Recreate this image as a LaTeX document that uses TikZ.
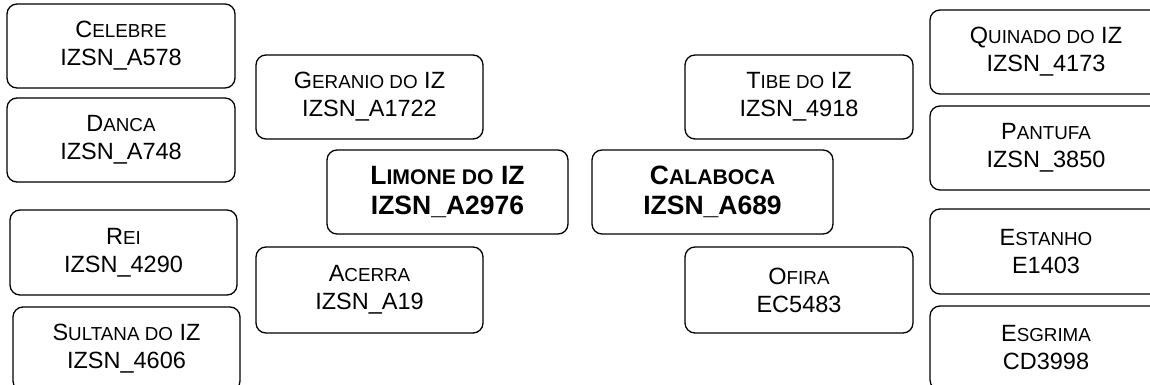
\documentclass[tikz,border=0pt]{standalone}
\usepackage{fontspec}
\setmainfont{Liberation Sans}
\newcommand\SC[2]{#1{\fontsize{18.8pt}{28pt}\selectfont #2}}
\newcommand\SCB[2]{#1{\fontsize{21.2pt}{29.5pt}\selectfont #2}}
\tikzset{
  box/.style={draw=black, line width=1.3pt, rounded corners=10pt, fill=white,
    minimum width=228pt, minimum height=84pt, align=center, inner sep=0pt,
    font=\fontsize{23.5pt}{28pt}\selectfont},
  wide/.style={box, minimum width=241pt, font=\fontsize{26.5pt}{29.5pt}\selectfont\bfseries},
}
\begin{document}
\begin{tikzpicture}[x=1pt,y=-1pt]
\useasboundingbox (0,0) rectangle (1150,385);
\begin{scope}
\clip (0,0) rectangle (1150,385);
\node[box] (celebre) at (121,46) {\SC{C}{ELEBRE}\\IZSN\_A578};
\node[box] (danca) at (121,140) {\SC{D}{ANCA}\\IZSN\_A748};
\node[box, minimum width=227pt, minimum height=85pt] (rei) at (123.5,252.5) {\SC{R}{EI}\\IZSN\_4290};
\node[box, minimum width=227pt] (sultana) at (126.5,349) {\SC{S}{ULTANA DO} IZ\\IZSN\_4606};
\node[box, minimum width=227pt] (geranio) at (369.5,97) {\SC{G}{ERANIO DO} IZ\\IZSN\_A1722};
\node[wide] (limone) at (447.5,192) {\SCB{L}{IMONE DO} IZ\\IZSN\_A2976};
\node[box, minimum width=227pt, minimum height=86pt] (acerra) at (369.5,290) {\SC{A}{CERRA}\\IZSN\_A19};
\node[box] (tibe) at (799,97) {\SC{T}{IBE DO} IZ\\IZSN\_4918};
\node[wide] (calaboca) at (712.5,192) {\SCB{C}{ALABOCA}\\IZSN\_A689};
\node[box, minimum height=86pt] (ofira) at (799,290) {\SC{O}{FIRA}\\EC5483};
\node[box, minimum width=232pt] (quinado) at (1046,52) {\SC{Q}{UINADO DO} IZ\\IZSN\_4173};
\node[box, minimum width=232pt] (pantufa) at (1046,148) {\SC{P}{ANTUFA}\\IZSN\_3850};
\node[box, minimum width=232pt, minimum height=85pt] (estanho) at (1046,251.5) {\SC{E}{STANHO}\\E1403};
\node[box, minimum width=232pt] (esgrima) at (1046,348) {\SC{E}{SGRIMA}\\CD3998};
\end{scope}
\end{tikzpicture}
\end{document}
